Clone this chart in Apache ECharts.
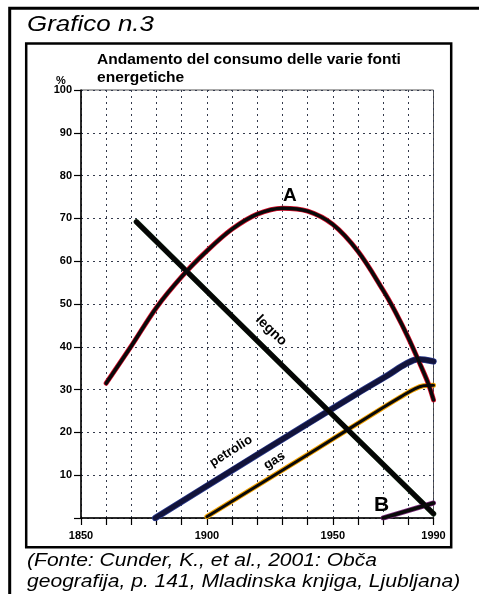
<!DOCTYPE html>
<html>
<head>
<meta charset="utf-8">
<script src="https://cdn.jsdelivr.net/npm/echarts@6/dist/echarts.min.js"></script>
<style>
html, body { margin: 0; padding: 0; background: #fff; }
#chart { width: 479px; height: 594px; }
</style>
</head>
<body>
<div id="chart"></div>
<script>
// valori (anno, %)
var curvaA = [[1860, 31.5], [1870, 40.2], [1880, 49.2], [1890, 56.4], [1900, 62.4], [1910, 67.5],
  [1920, 71.0], [1930, 72.4], [1940, 71.7], [1950, 68.6], [1960, 62.3], [1970, 53.2], [1975, 48.0],
  [1980, 42.1], [1985, 35.5], [1988, 31.3], [1990, 27.6]];
var legno = [[1872, 69.2], [1930, 35.6], [1990, 1.0]];
var petrolio = [[1879.5, 0], [1920, 14.8], [1960, 29.2], [1972, 33.4], [1979, 36.0], [1984, 37.1], [1990, 36.6]];
var gas = [[1900, 0.3], [1940, 14.8], [1970, 25.8], [1977, 28.3], [1982, 30.0], [1986, 30.9], [1990, 31.0]];
var curvaB = [[1970, 0], [1990, 3.5]];
var anniEtichetta = [1850, 1900, 1950, 1990];

var chart = echarts.init(document.getElementById('chart'));

// ogni linea: bordo colorato sotto + tratto nero sopra
function linea (nome, dati, bordo, nucleo, wBordo, wNucleo) {
  var base = {
    type: 'line',
    data: dati,
    showSymbol: false,
    smooth: 0.35,
    silent: true
  };
  return [
    Object.assign({}, base, {name: nome + '_b', z: 3, lineStyle: {color: bordo, width: wBordo, cap: 'round'}}),
    Object.assign({}, base, {name: nome, z: 4, lineStyle: {color: nucleo, width: wNucleo, cap: 'round'}})
  ];
}

var etichetta = {
  color: '#000',
  fontFamily: 'Liberation Sans, Arial, sans-serif',
  fontWeight: 'bold'
};

var option = {
  backgroundColor: '#fff',
  animation: false,
  grid: {
    left: 81,
    right: 45.5,
    top: 90,
    bottom: 76,
    show: true,
    borderColor: '#555',
    borderWidth: 1,
    outerBoundsMode: 'none'
  },
  xAxis: {
    type: 'value',
    min: 1850,
    max: 1990,
    interval: 10,
    axisLine: {show: true, onZero: false, lineStyle: {color: '#000', width: 1.5}},
    axisTick: {show: true, length: 7, lineStyle: {color: '#000', width: 1.2}},
    axisLabel: {
      margin: 12,
      fontSize: 11,
      fontWeight: 'bold',
      color: '#000',
      fontFamily: 'Liberation Sans, Arial, sans-serif',
      formatter: function (v) {
        return anniEtichetta.indexOf(v) >= 0 ? String(v) : '';
      }
    },
    splitLine: {show: true, lineStyle: {color: '#343a4c', width: 1, type: [2, 4]}}
  },
  yAxis: {
    type: 'value',
    min: 0,
    max: 100,
    interval: 10,
    axisLine: {show: true, onZero: false, lineStyle: {color: '#000', width: 1.5}},
    axisTick: {show: true, length: 7, lineStyle: {color: '#000', width: 1.2}},
    axisLabel: {
      margin: 9,
      fontSize: 11,
      fontWeight: 'bold',
      color: '#000',
      fontFamily: 'Liberation Sans, Arial, sans-serif',
      formatter: function (v) { return v === 0 ? '' : String(v); }
    },
    splitLine: {show: true, lineStyle: {color: '#343a4c', width: 1, type: [2, 4]}}
  },
  graphic: [
    {type: 'rect', shape: {x: 9.7, y: 8.3, width: 700, height: 700},
      style: {fill: null, stroke: '#000', lineWidth: 3}},
    {type: 'rect', shape: {x: 26.2, y: 43.5, width: 425, height: 503.8},
      style: {fill: null, stroke: '#000', lineWidth: 2.5}},
    {type: 'text', x: 27, y: 24.5, scaleX: 1.18,
      style: {text: 'Grafico n.3', font: 'italic 22px "Liberation Sans", Arial, sans-serif',
        fill: '#000', textAlign: 'left', textVerticalAlign: 'middle'}},
    {type: 'text', x: 97, y: 59.7, scaleX: 1.11,
      style: {text: 'Andamento del consumo delle varie fonti', font: 'bold 14px "Liberation Sans", Arial, sans-serif',
        fill: '#000', textAlign: 'left', textVerticalAlign: 'middle'}},
    {type: 'text', x: 97, y: 78.5, scaleX: 1.11,
      style: {text: 'energetiche', font: 'bold 14px "Liberation Sans", Arial, sans-serif',
        fill: '#000', textAlign: 'left', textVerticalAlign: 'middle'}},
    {type: 'text', x: 61, y: 80.5,
      style: {text: '%', font: 'bold 11px "Liberation Sans", Arial, sans-serif',
        fill: '#000', textAlign: 'center', textVerticalAlign: 'middle'}},
    {type: 'text', x: 27, y: 560.5, scaleX: 1.17,
      style: {text: '(Fonte: Cunder, K., et al., 2001: Obča', font: 'italic 18px "Liberation Sans", Arial, sans-serif',
        fill: '#000', textAlign: 'left', textVerticalAlign: 'middle'}},
    {type: 'text', x: 27, y: 581.5, scaleX: 1.17,
      style: {text: 'geografija, p. 141, Mladinska knjiga, Ljubljana)', font: 'italic 18px "Liberation Sans", Arial, sans-serif',
        fill: '#000', textAlign: 'left', textVerticalAlign: 'middle'}}
  ],
  series: [].concat(
    linea('gas', gas, '#f2a200', '#0a0a0a', 5, 3),
    linea('petrolio', petrolio, '#2b3a8c', '#12133a', 6.5, 5),
    linea('legno', legno, '#1c361c', '#050505', 5.5, 4.5),
    linea('A', curvaA, '#d8102c', '#0a0a0a', 5, 3.5),
    linea('B', curvaB, '#7a2a7a', '#0a0a0a', 5, 3.5),
    [{
      type: 'scatter',
      name: 'etichette',
      symbolSize: 0,
      silent: true,
      z: 6,
      itemStyle: {opacity: 1},
      label: Object.assign({show: true, position: 'inside', opacity: 1}, etichetta),
      data: [
        {value: [1933, 75.2], label: {formatter: 'A', fontSize: 19}},
        {value: [1969.4, 3.0], label: {formatter: 'B', fontSize: 21}},
        {value: [1925.5, 43.8], label: {formatter: 'legno', fontSize: 14, rotate: -44}},
        {value: [1909.6, 15.6], label: {formatter: 'petrolio', fontSize: 13, rotate: 32}},
        {value: [1926.8, 13.4], label: {formatter: 'gas', fontSize: 13, rotate: 32}}
      ]
    }]
  )
};

chart.setOption(option);
</script>
</body>
</html>
